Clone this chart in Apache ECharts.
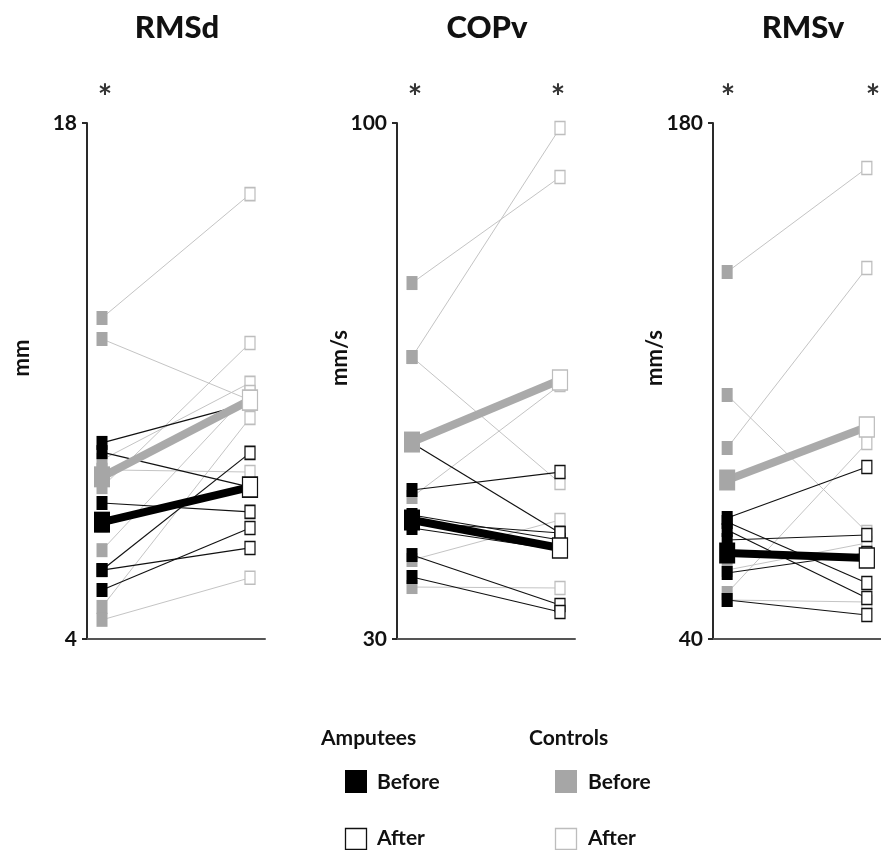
<!DOCTYPE html>
<html>
<head>
<meta charset="utf-8">
<script src="https://cdn.jsdelivr.net/npm/echarts@6/dist/echarts.min.js"></script>
<style>
  html, body { margin: 0; padding: 0; background: #fff; }
  #chart { width: 881px; height: 850px; }
</style>
</head>
<body>
<div id="chart"></div>
<script>
// panels
var titles = ['RMSd', 'COPv', 'RMSv'];
var units = ['mm', 'mm/s', 'mm/s'];
var yMin = [4, 30, 40];
var yMax = [18, 100, 180];

// RMSd (mm)
var rmsdAmpBefore = [9.32, 9.07, 7.69, 7.09, 5.87, 5.87, 5.33];
var rmsdAmpAfter  = [10.40, 8.12, 7.45, 8.12, 9.05, 6.47, 7.01];
var rmsdCtlBefore = [12.71, 12.14, 8.12, 8.86, 6.41, 4.87, 4.52, 8.59];
var rmsdCtlAfter  = [16.07, 10.48, 12.03, 10.95, 10.70, 10.00, 5.66, 8.53];
var rmsdAmpMean = [7.17, 8.12];
var rmsdCtlMean = [8.40, 10.48];

// COPv (mm/s)
var copvAmpBefore = [56.59, 50.21, 46.82, 45.87, 45.06, 41.39, 38.41];
var copvAmpAfter  = [44.38, 52.65, 43.43, 44.38, 42.07, 34.61, 33.66];
var copvCtlBefore = [78.29, 68.25, 68.25, 49.26, 40.72, 37.05];
var copvCtlAfter  = [92.67, 99.32, 51.16, 64.46, 46.14, 36.92];
var copvAmpMean = [46.14, 42.34];
var copvCtlMean = [56.72, 65.13];

// RMSv (mm/s)
var rmsvAmpBefore = [72.83, 71.74, 69.57, 66.86, 57.91, 50.58];
var rmsvAmpAfter  = [86.67, 55.19, 51.12, 68.22, 63.33, 46.51];
var rmsvCtlBefore = [139.57, 106.20, 91.82, 52.48, 50.58, 58.72];
var rmsvCtlAfter  = [167.79, 69.03, 140.66, 93.18, 50.04, 66.05];
var rmsvAmpMean = [63.33, 61.98];
var rmsvCtlMean = [83.14, 97.52];

var panelLeft = [87, 397, 713];
var fontFam = 'Lato, "Open Sans", sans-serif';

var myChart = echarts.init(document.getElementById('chart'));

var grids = [], xAxes = [], yAxes = [], series = [];

function pairSeries(idx, b, a, fill, border, lineColor, lineWidth, sizeB, sizeA, z) {
    return {
        type: 'line',
        xAxisIndex: idx,
        yAxisIndex: idx,
        symbol: 'rect',
        animation: false,
        silent: true,
        z: z,
        lineStyle: { color: lineColor, width: lineWidth },
        data: [
            { value: [0, b], symbolSize: sizeB, itemStyle: { color: fill, borderWidth: 0 } },
            { value: [1, a], symbolSize: sizeA, itemStyle: { color: '#fff', borderColor: border, borderWidth: 1.4 } }
        ]
    };
}

function buildPanel(idx, ampB, ampA, ctlB, ctlA, ampMean, ctlMean) {
    grids.push({ left: panelLeft[idx], top: 123, width: 178, height: 516 });
    xAxes.push({
        gridIndex: idx, type: 'value', min: -0.1014, max: 1.1014,
        axisLine: { show: true, lineStyle: { color: '#555', width: 2 } },
        axisTick: { show: false }, axisLabel: { show: false }, splitLine: { show: false }
    });
    yAxes.push({
        gridIndex: idx, type: 'value', min: yMin[idx], max: yMax[idx],
        axisLine: { show: true, onZero: false, lineStyle: { color: '#2a2a2a', width: 2 } },
        axisTick: { show: true, length: 5, customValues: [yMin[idx], yMax[idx]], lineStyle: { color: '#2a2a2a', width: 2 } },
        axisLabel: { customValues: [yMin[idx], yMax[idx]], margin: 10, color: '#111', fontSize: 21, fontWeight: 'bold', fontFamily: fontFam },
        splitLine: { show: false }
    });
    for (var i = 0; i < ctlB.length; i++) {
        series.push(pairSeries(idx, ctlB[i], ctlA[i], '#a6a6a6', '#bdbdbd', '#c4c4c4', 1, [11, 14], [10, 13], 2));
    }
    for (var j = 0; j < ampB.length; j++) {
        series.push(pairSeries(idx, ampB[j], ampA[j], '#000', '#111', '#111', 1.2, [11, 14], [10, 13], 3));
    }
    series.push(pairSeries(idx, ctlMean[0], ctlMean[1], '#a6a6a6', '#bdbdbd', '#aaaaaa', 8, [16, 21], [15, 20], 4));
    series.push(pairSeries(idx, ampMean[0], ampMean[1], '#000', '#111', '#000', 8, [16, 21], [15, 20], 5));
}

buildPanel(0, rmsdAmpBefore, rmsdAmpAfter, rmsdCtlBefore, rmsdCtlAfter, rmsdAmpMean, rmsdCtlMean);
buildPanel(1, copvAmpBefore, copvAmpAfter, copvCtlBefore, copvCtlAfter, copvAmpMean, copvCtlMean);
buildPanel(2, rmsvAmpBefore, rmsvAmpAfter, rmsvCtlBefore, rmsvCtlAfter, rmsvAmpMean, rmsvCtlMean);

var titleX = [177, 487, 803];
var unitX = [22, 340, 655];
var starPos = [[105, 0], [415, 1], [558, 1], [728, 2], [873, 2]];

var graphics = [];
for (var k = 0; k < 3; k++) {
    graphics.push({
        type: 'text', x: titleX[k], y: 28,
        style: { text: titles[k], fill: '#111', font: '900 31px ' + fontFam, textAlign: 'center', textVerticalAlign: 'middle' }
    });
    graphics.push({
        type: 'text', x: unitX[k], y: 358, rotation: Math.PI / 2,
        style: { text: units[k], fill: '#111', font: 'bold 22px ' + fontFam, textAlign: 'center', textVerticalAlign: 'middle' }
    });
}
for (var s = 0; s < starPos.length; s++) {
    graphics.push({
        type: 'text', x: starPos[s][0], y: 98,
        style: { text: '*', fill: '#333', font: 'bold 34px ' + fontFam, textAlign: 'center', textVerticalAlign: 'middle' }
    });
}

// legend
var legendFont = 'bold 21px ' + fontFam;
graphics.push(
    { type: 'text', x: 321, y: 738, style: { text: 'Amputees', fill: '#111', font: legendFont, textVerticalAlign: 'middle' } },
    { type: 'text', x: 529, y: 738, style: { text: 'Controls', fill: '#111', font: legendFont, textVerticalAlign: 'middle' } },
    { type: 'rect', shape: { x: 345, y: 770, width: 22, height: 23 }, style: { fill: '#000' } },
    { type: 'text', x: 377, y: 782, style: { text: 'Before', fill: '#111', font: legendFont, textVerticalAlign: 'middle' } },
    { type: 'rect', shape: { x: 555, y: 770, width: 22, height: 23 }, style: { fill: '#a6a6a6' } },
    { type: 'text', x: 588, y: 782, style: { text: 'Before', fill: '#111', font: legendFont, textVerticalAlign: 'middle' } },
    { type: 'rect', shape: { x: 345.5, y: 828.5, width: 21, height: 21 }, style: { fill: '#fff', stroke: '#111', lineWidth: 1.3 } },
    { type: 'text', x: 377, y: 838, style: { text: 'After', fill: '#111', font: legendFont, textVerticalAlign: 'middle' } },
    { type: 'rect', shape: { x: 555.5, y: 828.5, width: 21, height: 21 }, style: { fill: '#fff', stroke: '#bdbdbd', lineWidth: 1.3 } },
    { type: 'text', x: 588, y: 838, style: { text: 'After', fill: '#111', font: legendFont, textVerticalAlign: 'middle' } }
);

var option = {
    backgroundColor: '#fff',
    animation: false,
    grid: grids,
    xAxis: xAxes,
    yAxis: yAxes,
    series: series,
    graphic: graphics
};
myChart.setOption(option);
</script>
</body>
</html>
